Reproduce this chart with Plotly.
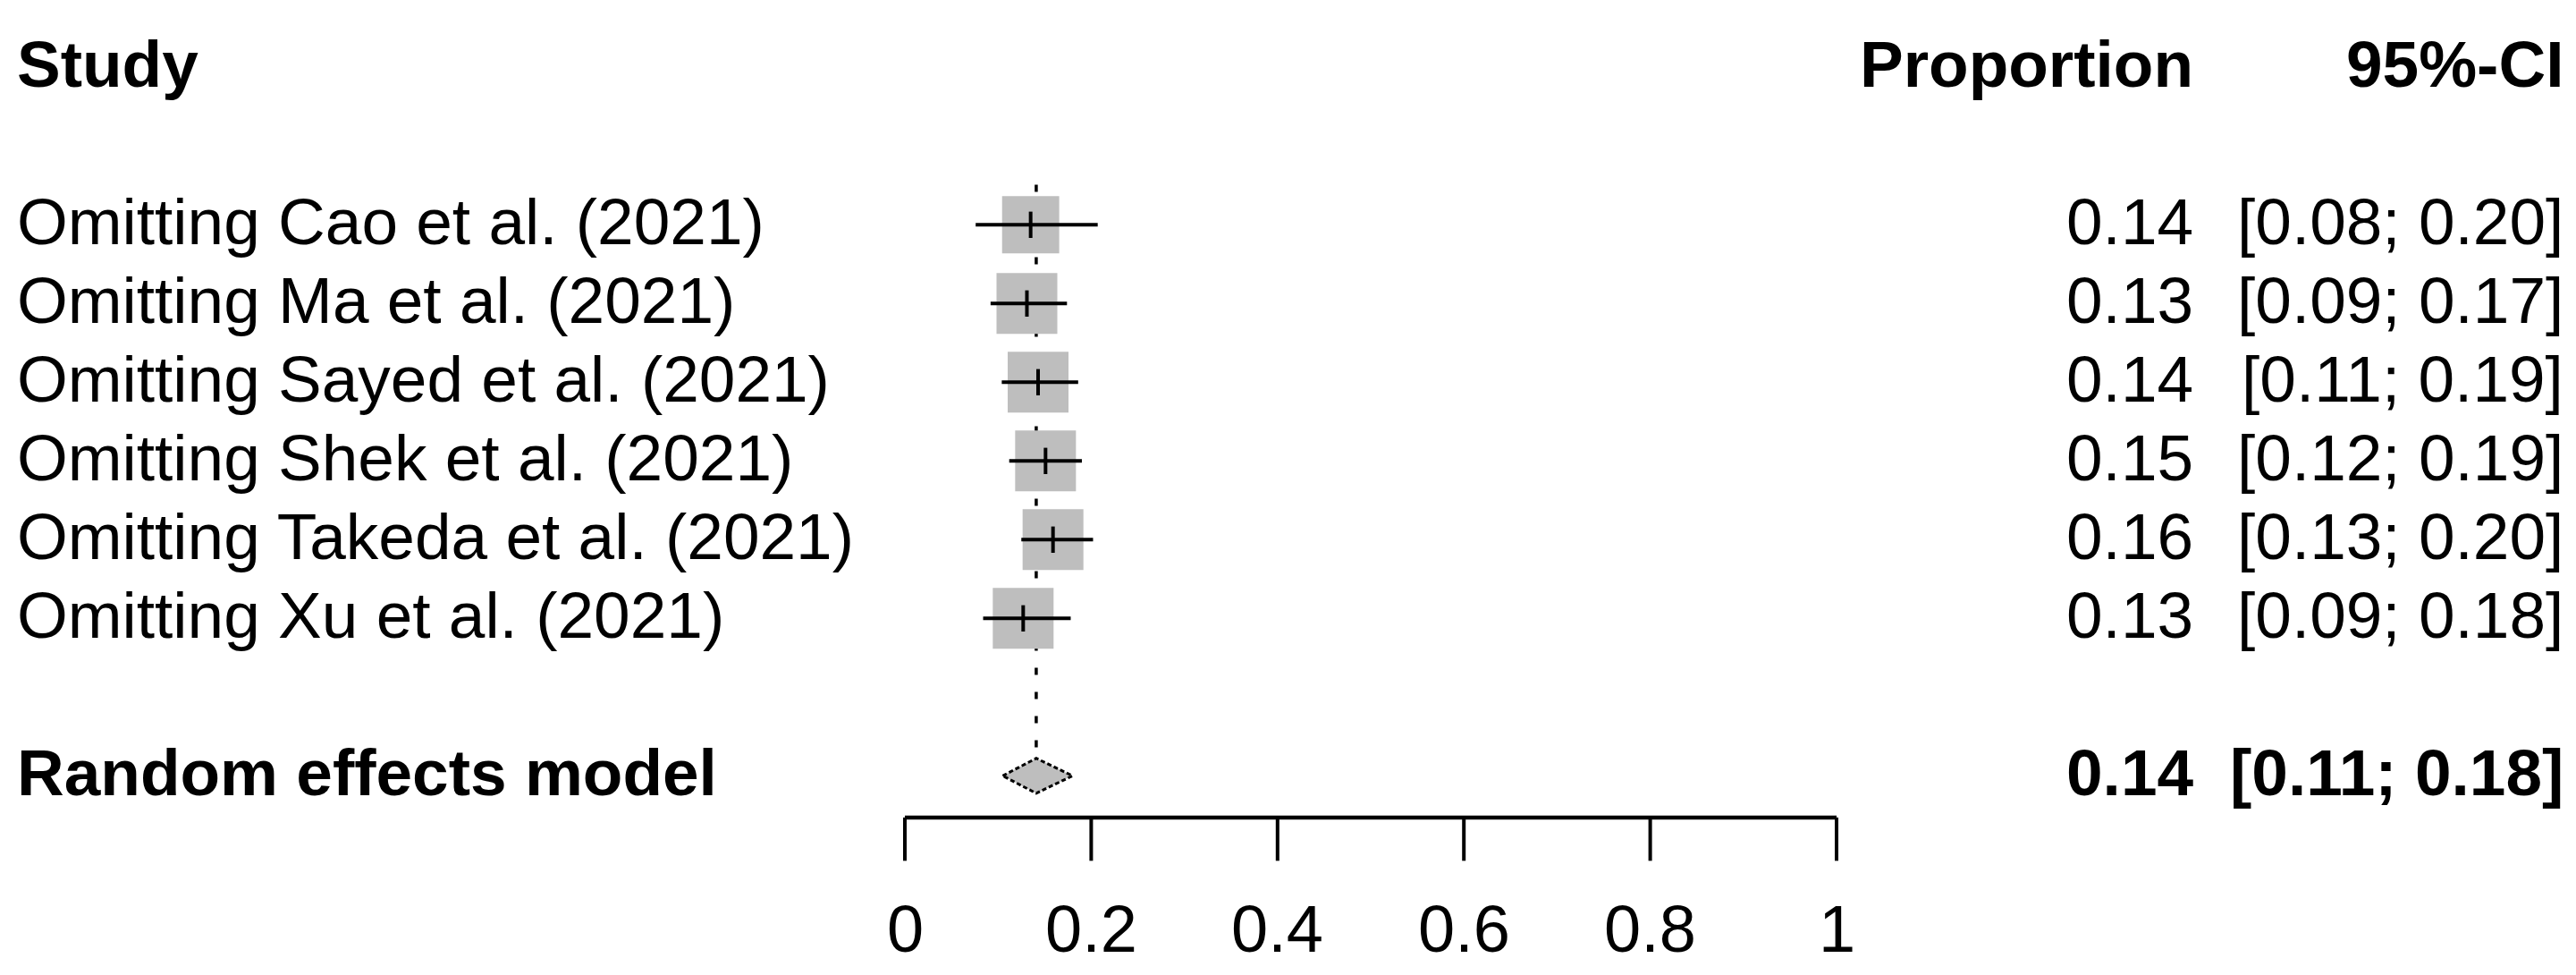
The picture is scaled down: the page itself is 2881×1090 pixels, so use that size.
import math
import plotly.graph_objects as go

# ---------------- data ----------------
studies = [
    "Omitting Cao et al. (2021)",
    "Omitting Ma et al. (2021)",
    "Omitting Sayed et al. (2021)",
    "Omitting Shek et al. (2021)",
    "Omitting Takeda et al. (2021)",
    "Omitting Xu et al. (2021)",
]
est = [0.135, 0.131, 0.143, 0.151, 0.159, 0.127]
lower = [0.076, 0.092, 0.104, 0.112, 0.125, 0.084]
upper = [0.207, 0.174, 0.186, 0.190, 0.202, 0.178]
weights = [15.0, 17.0, 17.0, 17.0, 17.0, 17.0]
prop_labels = ["0.14", "0.13", "0.14", "0.15", "0.16", "0.13"]
ci_labels = ["[0.08; 0.20]", "[0.09; 0.17]", "[0.11; 0.19]",
             "[0.12; 0.19]", "[0.13; 0.20]", "[0.09; 0.18]"]

re_label = "Random effects model"
re_est, re_lower, re_upper = 0.141, 0.105, 0.180
re_prop_label = "0.14"
re_ci_label = "[0.11; 0.18]"

headers = ["Study", "Proportion", "95%-CI"]
tick_vals = [0, 0.2, 0.4, 0.6, 0.8, 1]
tick_text = ["0", "0.2", "0.4", "0.6", "0.8", "1"]

# ---------------- layout geometry ----------------
W, H = 2881, 1090
X0PX, UNIT = 1004, 1042          # pixel of x=0, pixels per unit
ROW0PX, ROWH = 243.3, 88.0       # pixel of first row, pixels per row
x_range = [(0 - X0PX) / UNIT, (W - X0PX) / UNIT]
y_range = [(H - ROW0PX) / ROWH, (0 - ROW0PX) / ROWH]

x_left = (9 - X0PX) / UNIT
x_prop = (2447 - X0PX) / UNIT
x_ci = (2861 - X0PX) / UNIT

rows = list(range(len(studies)))
re_row = len(studies) + 1
header_row = -2
axis_row = re_row + 0.53
tick_end_row = re_row + 1.08
ticklab_row = re_row + 1.98
TXT_DY = -0.04

FONT = "Liberation Sans, Arial, sans-serif"
FS = 73
BOX = "#BEBEBE"

fig = go.Figure()

# reference (dotted) line at the pooled estimate
fig.add_trace(go.Scatter(
    x=[re_est, re_est], y=[-0.51, re_row - 0.25], mode="lines",
    line=dict(color="black", width=3.5, dash="8px,19px"), hoverinfo="skip"))

# weight squares
wmax = max(weights)
sizes = [68 * math.sqrt(w / wmax) for w in weights]
fig.add_trace(go.Scatter(
    x=est, y=rows, mode="markers",
    marker=dict(symbol="square", size=sizes, color=BOX, opacity=1,
                line=dict(width=0)),
    hoverinfo="skip"))

# confidence intervals
cx, cy = [], []
for i in rows:
    cx += [lower[i], upper[i], None]
    cy += [i, i, None]
fig.add_trace(go.Scatter(x=cx, y=cy, mode="lines",
                         line=dict(color="black", width=4), hoverinfo="skip"))

# point estimate ticks
fig.add_trace(go.Scatter(
    x=est, y=rows, mode="markers",
    marker=dict(symbol="line-ns", size=21, opacity=1,
                line=dict(width=4, color="black")),
    hoverinfo="skip"))

# diamond for random effects model
dh = 0.222
fig.add_trace(go.Scatter(
    x=[re_lower, re_est, re_upper, re_est, re_lower],
    y=[re_row, re_row - dh, re_row, re_row + dh, re_row],
    mode="lines", fill="toself", fillcolor=BOX,
    line=dict(color="black", width=3, dash="5px,3px"), hoverinfo="skip"))

# x axis line and ticks
fig.add_trace(go.Scatter(
    x=[min(tick_vals), max(tick_vals)], y=[axis_row, axis_row], mode="lines",
    line=dict(color="black", width=4.5), hoverinfo="skip"))
tx, ty = [], []
for v in tick_vals:
    tx += [v, v, None]
    ty += [axis_row, tick_end_row, None]
fig.add_trace(go.Scatter(x=tx, y=ty, mode="lines",
                         line=dict(color="black", width=4), hoverinfo="skip"))

annotations = []


def txt(x, y, s, anchor, bold=False, size=FS):
    annotations.append(dict(
        x=x, y=y + TXT_DY, xref="x", yref="y",
        text=f"<b>{s}</b>" if bold else s,
        showarrow=False, xanchor=anchor, yanchor="middle",
        font=dict(family=FONT, size=size, color="black")))


# headers
txt(x_left, header_row, headers[0], "left", bold=True)
txt(x_prop, header_row, headers[1], "right", bold=True)
txt(x_ci, header_row, headers[2], "right", bold=True)

# study rows
for i in rows:
    txt(x_left, i, studies[i], "left")
    txt(x_prop, i, prop_labels[i], "right")
    txt(x_ci, i, ci_labels[i], "right")

# pooled row
txt(x_left, re_row, re_label, "left", bold=True)
txt(x_prop, re_row, re_prop_label, "right", bold=True)
txt(x_ci, re_row, re_ci_label, "right", bold=True)

# tick labels
for v, t in zip(tick_vals, tick_text):
    txt(v, ticklab_row, t, "center", size=74)

fig.update_layout(
    width=W, height=H,
    margin=dict(l=0, r=0, t=0, b=0),
    paper_bgcolor="white", plot_bgcolor="white",
    showlegend=False,
    xaxis=dict(range=x_range, visible=False, fixedrange=True),
    yaxis=dict(range=y_range, visible=False, fixedrange=True),
    annotations=annotations,
)

fig.write_html("out.html")
